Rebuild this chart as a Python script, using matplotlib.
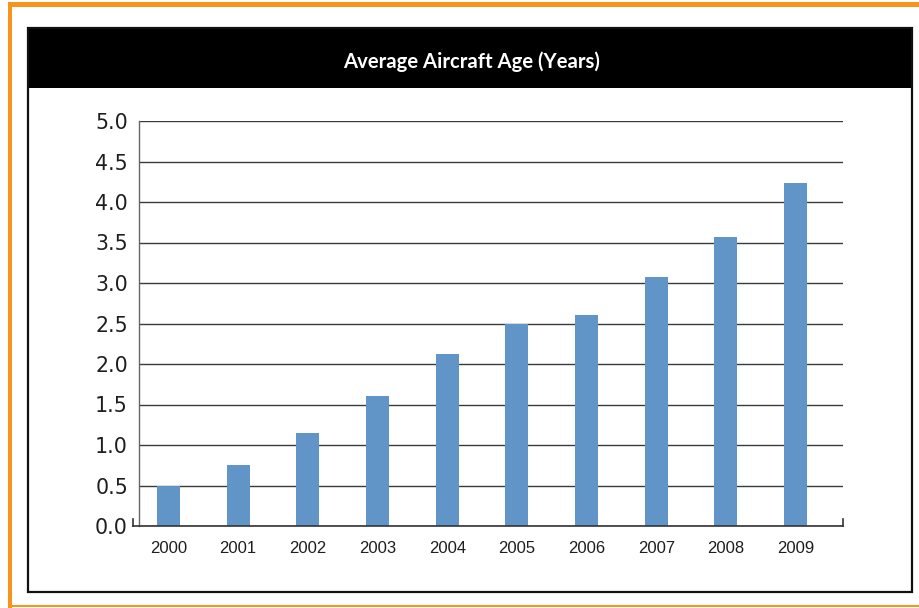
import matplotlib.pyplot as plt
from matplotlib.patches import Rectangle

# Datos del grafico
years = ["2000", "2001", "2002", "2003", "2004", "2005", "2006", "2007", "2008", "2009"]
avg_age = [0.5, 0.75, 1.15, 1.61, 2.12, 2.5, 2.61, 3.07, 3.57, 4.24]
y_ticks = [0.0, 0.5, 1.0, 1.5, 2.0, 2.5, 3.0, 3.5, 4.0, 4.5, 5.0]
title = "Average Aircraft Age (Years)"

W, H = 919, 608
ORANGE = "#f7941d"
BLUE = "#6194c7"


def px(x, y, w, h):
    # rectangulo en pixeles (origen arriba-izquierda) -> fraccion de figura
    return (x / W, 1 - (y + h) / H), w / W, h / H


fig = plt.figure(figsize=(W / 100, H / 100), dpi=100)

# -------- MARCO --------
for x, y, w, h, c in [(8, 2, 911, 5, ORANGE), (8, 2, 4, 606, ORANGE),
                      (8, 605, 911, 2, ORANGE), (27, 27, 886, 61, "black")]:
    xy, fw, fh = px(x, y, w, h)
    fig.add_artist(Rectangle(xy, fw, fh, transform=fig.transFigure,
                             facecolor=c, edgecolor="none"))

xy, fw, fh = px(28, 28, 884, 564)
fig.add_artist(Rectangle(xy, fw, fh, transform=fig.transFigure,
                         facecolor="none", edgecolor="#111111", linewidth=1.6))

fig.text(472 / W, 1 - 62 / H, title, color="white", fontsize=14.6,
         fontweight="bold", family=["Lato", "DejaVu Sans"],
         ha="center", va="center")

# -------- GRAFICO --------
left, right, top, bottom = 139, 843, 121, 526
ax = fig.add_axes([left / W, 1 - bottom / H, (right - left) / W, (bottom - top) / H])

pos = list(range(len(years)))
ax.bar(pos, avg_age, width=0.33, color=BLUE, zorder=3)

ax.set_xlim(-0.423, 9.68)
ax.set_ylim(0, 5)
ax.set_yticks(y_ticks)
ax.set_yticklabels([f"{v:.1f}" for v in y_ticks], fontsize=14.8,
                   color="#1e1e1e", family="DejaVu Sans")
ax.set_xticks(pos)
ax.set_xticklabels(years, fontsize=12, color="#1e1e1e",
                   family=["Liberation Sans", "DejaVu Sans"])
ax.tick_params(axis="y", length=0, pad=8)
ax.tick_params(axis="x", length=0, pad=11)

ax.yaxis.grid(True, color="#3a3a3a", linewidth=1.0, zorder=0)
ax.set_axisbelow(True)

for s in ["top", "right", "bottom"]:
    ax.spines[s].set_visible(False)
ax.spines["left"].set_color("#666666")
ax.spines["left"].set_linewidth(1.0)

# eje x con marcas en los extremos
dx = 6 / (right - left)
dy = 7 / (bottom - top)
ax.plot([-dx, 1], [0, 0], transform=ax.transAxes, color="#333333",
        linewidth=1.2, clip_on=False, zorder=4)
for xe in [-dx, 1]:
    ax.plot([xe, xe], [0, dy], transform=ax.transAxes, color="#333333",
            linewidth=1.2, clip_on=False, zorder=4)

fig.savefig("out.png", dpi=100)
